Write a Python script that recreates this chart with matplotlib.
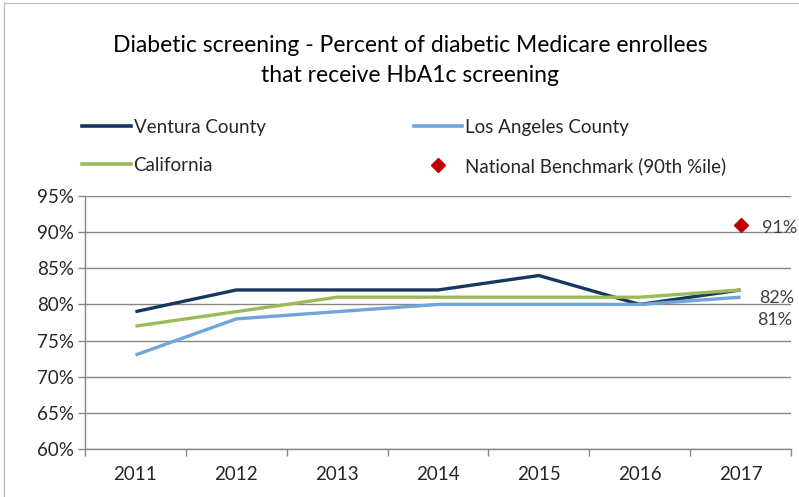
import matplotlib
matplotlib.use("Agg")
import matplotlib.pyplot as plt
from matplotlib.lines import Line2D
from matplotlib.ticker import FuncFormatter, FixedLocator

# --- dane ---
years = ['2011', '2012', '2013', '2014', '2015', '2016', '2017']
ventura = [79, 82, 82, 82, 84, 80, 82]
los_angeles = [73, 78, 79, 80, 80, 80, 81]
california = [77, 79, 81, 81, 81, 81, 82]
benchmark_year = '2017'
benchmark_value = 91

plt.rcParams['font.family'] = ['Lato', 'DejaVu Sans']

fig = plt.figure(figsize=(7.99, 4.97), dpi=100)
W, H = 799, 497
ax = fig.add_axes([85 / W, 1 - 449 / H, (791 - 85) / W, (449 - 196) / H])

x = list(range(len(years)))
ax.plot(x, ventura, color='#17375E', lw=2.4, solid_capstyle='butt', zorder=3)
ax.plot(x, los_angeles, color='#6FA5D8', lw=2.4, solid_capstyle='butt', zorder=3)
ax.plot(x, california, color='#9BBB59', lw=2.4, solid_capstyle='butt', zorder=4)
bx = years.index(benchmark_year)
ax.plot([bx], [benchmark_value], marker='D', color='#C00000', ms=7.5, ls='none', zorder=5)

# etykiety danych
lbl = dict(fontsize=13, color='#404040', va='center', ha='left')
ax.text(bx + 0.21, benchmark_value - 0.45, f'{benchmark_value}%', **lbl)
ax.text(bx + 0.18, california[-1] - 1.05, f'{california[-1]}%', **lbl)
ax.text(bx + 0.16, los_angeles[-1] - 3.1, f'{los_angeles[-1]}%', **lbl)

ax.set_xlim(-0.5, len(years) - 0.5)
ax.set_ylim(60, 95)
ax.set_yticks(range(60, 96, 5))
ax.yaxis.set_major_formatter(FuncFormatter(lambda v, p: f'{int(v)}%'))
ax.set_xticks(x)
ax.set_xticklabels(years)
ax.xaxis.set_minor_locator(FixedLocator([i - 0.5 for i in range(len(years) + 1)]))
ax.tick_params(axis='x', which='major', length=0, pad=12, labelsize=13.5, labelcolor='#262626')
ax.tick_params(axis='x', which='minor', length=5, color='#868686', width=1)
ax.tick_params(axis='y', length=5, color='#868686', width=1, labelsize=13.5, labelcolor='#262626', pad=3)
ax.grid(axis='y', color='#868686', lw=1)
ax.set_axisbelow(True)
for s in ['top', 'right']:
    ax.spines[s].set_visible(False)
for s in ['left', 'bottom']:
    ax.spines[s].set_color('#868686')
    ax.spines[s].set_linewidth(1)

# tytuł
fig.text(410 / W, 1 - 45 / H, 'Diabetic screening - Percent of diabetic Medicare enrollees',
         ha='center', va='center', fontsize=16.5, color='#000000')
fig.text(410 / W, 1 - 76 / H, 'that receive HbA1c screening',
         ha='center', va='center', fontsize=16.5, color='#000000')

# legenda (kolejność wierszami: Ventura, LA / California, Benchmark)
handles = [
    Line2D([], [], color='#17375E', lw=2.6),
    Line2D([], [], color='#9BBB59', lw=2.6),
    Line2D([], [], color='#6FA5D8', lw=2.6),
    Line2D([], [], color='#C00000', marker='D', ms=7, ls='none'),
]
labels = ['Ventura County', 'California', 'Los Angeles County', 'National Benchmark (90th %ile)']
fig.legend(handles, labels, ncol=2, loc='upper left', bbox_to_anchor=(82 / W, 1 - 119 / H),
           frameon=False, fontsize=13.5, handlelength=2.6, handletextpad=0.15,
           columnspacing=7.9, labelspacing=1.12, borderaxespad=0, borderpad=0,
           labelcolor='#262626')

# ramka wykresu
fig.add_artist(Line2D([4 / W, 4 / W], [0, 1 - 3 / H], color='#BFBFBF', lw=1))
fig.add_artist(Line2D([4 / W, 1], [1 - 3 / H, 1 - 3 / H], color='#BFBFBF', lw=1))

fig.savefig('out.png', dpi=100)
